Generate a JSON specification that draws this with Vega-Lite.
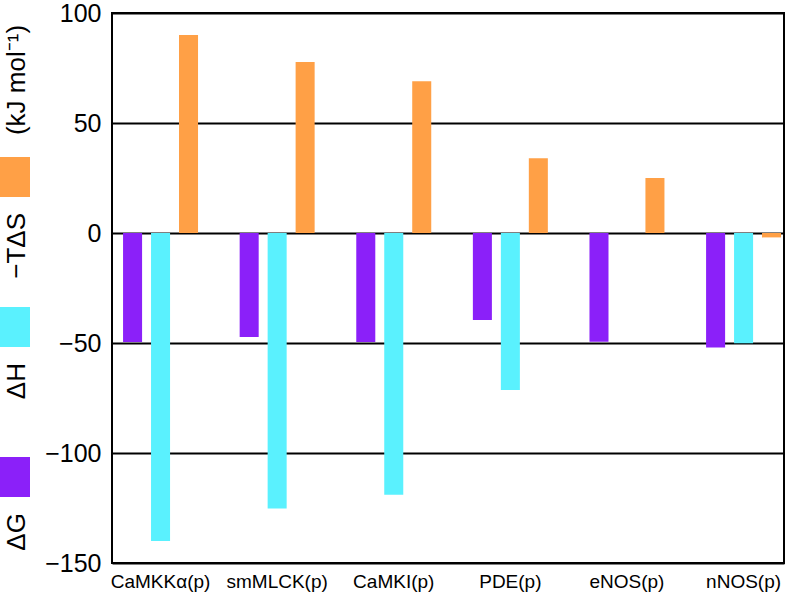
{
  "$schema": "https://vega.github.io/schema/vega-lite/v6.json",
  "padding": {"left": 0, "top": 0, "right": 0, "bottom": 0},
  "background": "white",
  "bounds": "flush",
  "spacing": 82,
  "config": {
    "font": "Liberation Sans",
    "view": {"stroke": null},
    "axis": {"labelFont": "Liberation Sans", "labelColor": "black"}
  },
  "datasets": {
    "thermo": [
      {"protein": "CaMKKα(p)", "series": "ΔG", "value": -49.5},
      {"protein": "CaMKKα(p)", "series": "ΔH", "value": -140},
      {"protein": "CaMKKα(p)", "series": "−TΔS", "value": 90},
      {"protein": "smMLCK(p)", "series": "ΔG", "value": -47.3},
      {"protein": "smMLCK(p)", "series": "ΔH", "value": -125.2},
      {"protein": "smMLCK(p)", "series": "−TΔS", "value": 77.7},
      {"protein": "CaMKI(p)", "series": "ΔG", "value": -49.5},
      {"protein": "CaMKI(p)", "series": "ΔH", "value": -119},
      {"protein": "CaMKI(p)", "series": "−TΔS", "value": 69},
      {"protein": "PDE(p)", "series": "ΔG", "value": -39.5},
      {"protein": "PDE(p)", "series": "ΔH", "value": -71.4},
      {"protein": "PDE(p)", "series": "−TΔS", "value": 34},
      {"protein": "eNOS(p)", "series": "ΔG", "value": -49.4},
      {"protein": "eNOS(p)", "series": "−TΔS", "value": 25},
      {"protein": "nNOS(p)", "series": "ΔG", "value": -52.1},
      {"protein": "nNOS(p)", "series": "ΔH", "value": -50.1},
      {"protein": "nNOS(p)", "series": "−TΔS", "value": -2}
    ],
    "key": [
      {"item": "unit", "label": "(kJ mol⁻¹)"},
      {"item": "−TΔS", "label": "−TΔS"},
      {"item": "ΔH", "label": "ΔH"},
      {"item": "ΔG", "label": "ΔG"}
    ]
  },
  "hconcat": [
    {
      "width": 30,
      "height": 550,
      "data": {"name": "key"},
      "layer": [
        {
          "transform": [{"filter": "datum.item !== 'unit'"}],
          "mark": {"type": "point", "shape": "M-0.75,-1L0.75,-1L0.75,1L-0.75,1Z", "size": 1600, "filled": true, "opacity": 1},
          "encoding": {
            "y": {"field": "item", "type": "nominal", "axis": null,
                  "scale": {"type": "point", "domain": ["unit", "−TΔS", "ΔH", "ΔG"], "padding": 0.333, "align": 0.14}},
            "color": {"field": "item", "type": "nominal", "legend": null,
                      "scale": {"domain": ["ΔG", "ΔH", "−TΔS"], "range": ["#8B20F9", "#5AF1FE", "#FFA046"]}}
          }
        },
        {
          "transform": [{"filter": "datum.item !== 'unit'"}],
          "mark": {"type": "text", "angle": 270, "align": "right", "baseline": "middle", "dx": -36, "dy": 2, "fontSize": 26, "color": "black", "font": "Liberation Sans"},
          "encoding": {
            "y": {"field": "item", "type": "nominal", "axis": null,
                  "scale": {"type": "point", "domain": ["unit", "−TΔS", "ΔH", "ΔG"], "padding": 0.333, "align": 0.14}},
            "text": {"field": "label"}
          }
        },
        {
          "transform": [{"filter": "datum.item === 'unit'"}],
          "mark": {"type": "text", "angle": 270, "align": "center", "baseline": "middle", "dx": -53, "dy": 2, "fontSize": 26, "color": "black", "font": "Liberation Sans"},
          "encoding": {
            "y": {"field": "item", "type": "nominal", "axis": null,
                  "scale": {"type": "point", "domain": ["unit", "−TΔS", "ΔH", "ΔG"], "padding": 0.333, "align": 0.14}},
            "text": {"field": "label"}
          }
        }
      ]
    },
    {
      "width": 672,
      "height": 550,
      "view": {"stroke": "black", "strokeWidth": 2},
      "data": {"name": "thermo"},
      "mark": {"type": "bar"},
      "encoding": {
        "x": {
          "field": "protein", "type": "nominal", "sort": null,
          "scale": {"paddingInner": 0.357, "paddingOuter": 0.06, "align": 0.79},
          "axis": {"title": null, "ticks": false, "domain": false, "labelAngle": 0, "labelFontSize": 19, "labelPadding": 9, "labelColor": "black"}
        },
        "xOffset": {
          "field": "series", "type": "nominal",
          "scale": {"domain": ["ΔG", "ΔH", "−TΔS"], "paddingInner": 0.32, "paddingOuter": 0}
        },
        "y": {
          "field": "value", "type": "quantitative",
          "scale": {"domain": [-150, 100], "nice": false, "zero": false},
          "axis": {"title": null, "values": [-150, -100, -50, 0, 50, 100], "ticks": false, "domain": false,
                   "grid": true, "gridColor": "black", "gridWidth": 2, "gridOpacity": 1,
                   "labelFontSize": 25, "labelPadding": 11, "labelColor": "black"}
        },
        "color": {
          "field": "series", "type": "nominal", "legend": null,
          "scale": {"domain": ["ΔG", "ΔH", "−TΔS"], "range": ["#8B20F9", "#5AF1FE", "#FFA046"]}
        }
      }
    }
  ]
}
